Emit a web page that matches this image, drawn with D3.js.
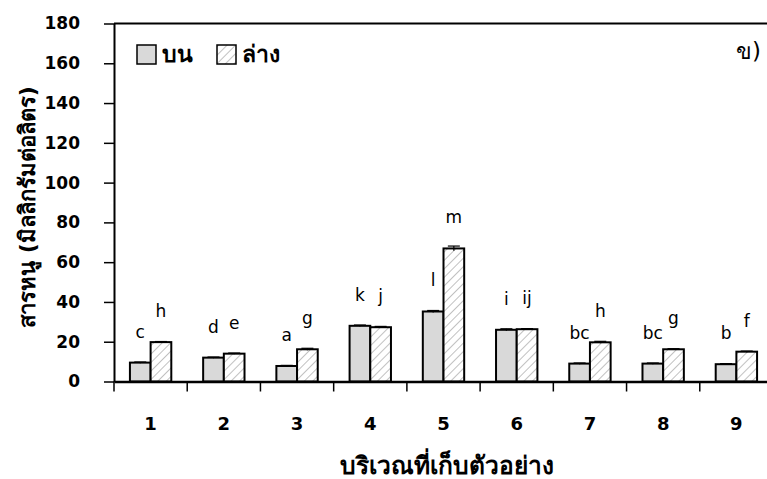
<!DOCTYPE html>
<html>
<head>
<meta charset="utf-8">
<script src="https://cdn.jsdelivr.net/npm/d3@7"></script>
<style>
  html, body { margin: 0; padding: 0; background: #fff; }
  svg { display: block; }
  text { font-family: Tahoma, "DejaVu Sans", "Noto Sans", sans-serif; fill: #000; }
</style>
</head>
<body>
<svg id="chart" width="767" height="479"></svg>
<script>
// Sampling sites and the two depths measured at each
const categories = ["1", "2", "3", "4", "5", "6", "7", "8", "9"];
const seriesNames = ["บน", "ล่าง"];

// Arsenic concentration (mg/L) for the upper and lower layer
const upperValues = [9.5, 12, 7.8, 28, 35.2, 26, 9, 9, 8.7];
const lowerValues = [19.8, 14, 16.2, 27.3, 66.9, 26.3, 19.7, 16.2, 15];
const upperErrors = [0.3, 0.3, 0.3, 0.4, 0.5, 0.5, 0.3, 0.3, 0.3];
const lowerErrors = [0.3, 0.3, 0.5, 0.4, 1.2, 0.3, 0.5, 0.3, 0.3];

// Significance letters above each bar
const upperLetters = ["c", "d", "a", "k", "l", "i", "bc", "bc", "b"];
const lowerLetters = ["h", "e", "g", "j", "m", "ij", "h", "g", "f"];

const yTicks = [0, 20, 40, 60, 80, 100, 120, 140, 160, 180];
const yTitle = "สารหนู (มิลลิกรัมต่อลิตร)";
const xTitle = "บริเวณที่เก็บตัวอย่าง";
const panelLabel = "ข)";

const svg = d3.select("#chart");

const plotLeft = 114, plotRight = 773, plotTop = 23.5, plotBottom = 381.5;

const x = d3.scaleBand().domain(categories).range([plotLeft, plotRight]).paddingInner(0).paddingOuter(0);
const x1 = d3.scaleBand().domain(seriesNames).range([0, x.bandwidth()]).paddingInner(0).paddingOuter(0.77);
const y = d3.scaleLinear().domain([0, 180]).range([plotBottom, plotTop]);

// Hatch pattern for the lower layer
const defs = svg.append("defs");
const pat = defs.append("pattern")
  .attr("id", "hatch")
  .attr("patternUnits", "userSpaceOnUse")
  .attr("width", 6).attr("height", 6)
  .attr("patternTransform", "rotate(45)");
pat.append("rect").attr("width", 6).attr("height", 6).attr("fill", "#fff");
pat.append("line").attr("x1", 0).attr("y1", 0).attr("x2", 0).attr("y2", 6)
  .attr("stroke", "#a6a6a6").attr("stroke-width", 1.4);

const fills = { "บน": "#d9d9d9", "ล่าง": "url(#hatch)" };

const rows = categories.map((c, i) => ({
  cat: c,
  bars: [
    { s: "บน", v: upperValues[i], e: upperErrors[i], l: upperLetters[i] },
    { s: "ล่าง", v: lowerValues[i], e: lowerErrors[i], l: lowerLetters[i] }
  ]
}));

// Top frame line
svg.append("line")
  .attr("x1", plotLeft).attr("x2", plotRight).attr("y1", plotTop).attr("y2", plotTop)
  .attr("stroke", "#000").attr("stroke-width", 2);

// Bars
const g = svg.append("g");
const groups = g.selectAll("g.grp").data(rows).join("g")
  .attr("class", "grp")
  .attr("transform", d => `translate(${x(d.cat)},0)`);

groups.selectAll("rect").data(d => d.bars).join("rect")
  .attr("x", d => x1(d.s))
  .attr("width", x1.bandwidth())
  .attr("y", d => y(d.v))
  .attr("height", d => y(0) - y(d.v))
  .attr("fill", d => fills[d.s])
  .attr("stroke", "#000")
  .attr("stroke-width", 2);

// Error bars
const eb = groups.selectAll("g.err").data(d => d.bars).join("g").attr("class", "err");
eb.append("line")
  .attr("x1", d => x1(d.s) + x1.bandwidth() / 2)
  .attr("x2", d => x1(d.s) + x1.bandwidth() / 2)
  .attr("y1", d => y(d.v - d.e)).attr("y2", d => y(d.v + d.e))
  .attr("stroke", "#000").attr("stroke-width", 1.2);
eb.append("line")
  .attr("x1", d => x1(d.s) + x1.bandwidth() / 2 - 6)
  .attr("x2", d => x1(d.s) + x1.bandwidth() / 2 + 6)
  .attr("y1", d => y(d.v + d.e)).attr("y2", d => y(d.v + d.e))
  .attr("stroke", "#000").attr("stroke-width", 1.2);

// Letters
groups.selectAll("text.let").data(d => d.bars).join("text")
  .attr("class", "let")
  .attr("x", d => x1(d.s) + x1.bandwidth() / 2)
  .attr("y", d => y(d.v) - 25)
  .attr("text-anchor", "middle")
  .attr("font-size", 17)
  .text(d => d.l);

// Y axis
const yAxis = d3.axisLeft(y).tickValues(yTicks).tickSize(10).tickPadding(24).tickSizeOuter(0);
const ya = svg.append("g").attr("transform", `translate(${plotLeft},0)`).call(yAxis);
ya.select(".domain").attr("stroke-width", 2);
ya.selectAll(".tick line").attr("stroke-width", 1.5);
ya.selectAll(".tick text").attr("font-size", 17).attr("font-weight", "bold")
  .style("font-family", "Tahoma, 'DejaVu Sans', sans-serif");

// X axis: labels centred on bands, ticks on band boundaries
const xAxis = d3.axisBottom(x).tickSize(0).tickPadding(36).tickSizeOuter(0);
const xa = svg.append("g").attr("transform", `translate(0,${plotBottom})`).call(xAxis);
xa.select(".domain").attr("stroke-width", 2.5);
xa.selectAll(".tick text").attr("font-size", 18).attr("font-weight", "bold")
  .style("font-family", "Tahoma, 'DejaVu Sans', sans-serif");
xa.selectAll("line.bound").data(categories).join("line")
  .attr("class", "bound")
  .attr("x1", d => x(d)).attr("x2", d => x(d))
  .attr("y1", 0).attr("y2", 10)
  .attr("stroke", "#000").attr("stroke-width", 1.5);

// Axis titles
svg.append("text")
  .attr("transform", `translate(27,207) rotate(-90)`)
  .attr("text-anchor", "middle")
  .attr("dominant-baseline", "central")
  .attr("font-size", 22).attr("font-weight", "bold")
  .text(yTitle);

svg.append("text")
  .attr("x", 447).attr("y", 474)
  .attr("text-anchor", "middle")
  .attr("font-size", 24.5).attr("font-weight", "bold")
  .text(xTitle);

// Legend
const legend = svg.append("g");
seriesNames.forEach((s, i) => {
  const lx = [137, 217][i];
  legend.append("rect")
    .attr("x", lx).attr("y", 45).attr("width", 19).attr("height", 19)
    .attr("fill", fills[s]).attr("stroke", "#000").attr("stroke-width", 1.5);
  legend.append("text")
    .attr("x", lx + 25).attr("y", 62)
    .attr("font-size", 23).attr("font-weight", "bold")
    .text(s);
});

// Panel label
svg.append("text")
  .attr("x", 761).attr("y", 59)
  .attr("text-anchor", "end")
  .attr("font-size", 23)
  .text(panelLabel);
</script>
</body>
</html>
